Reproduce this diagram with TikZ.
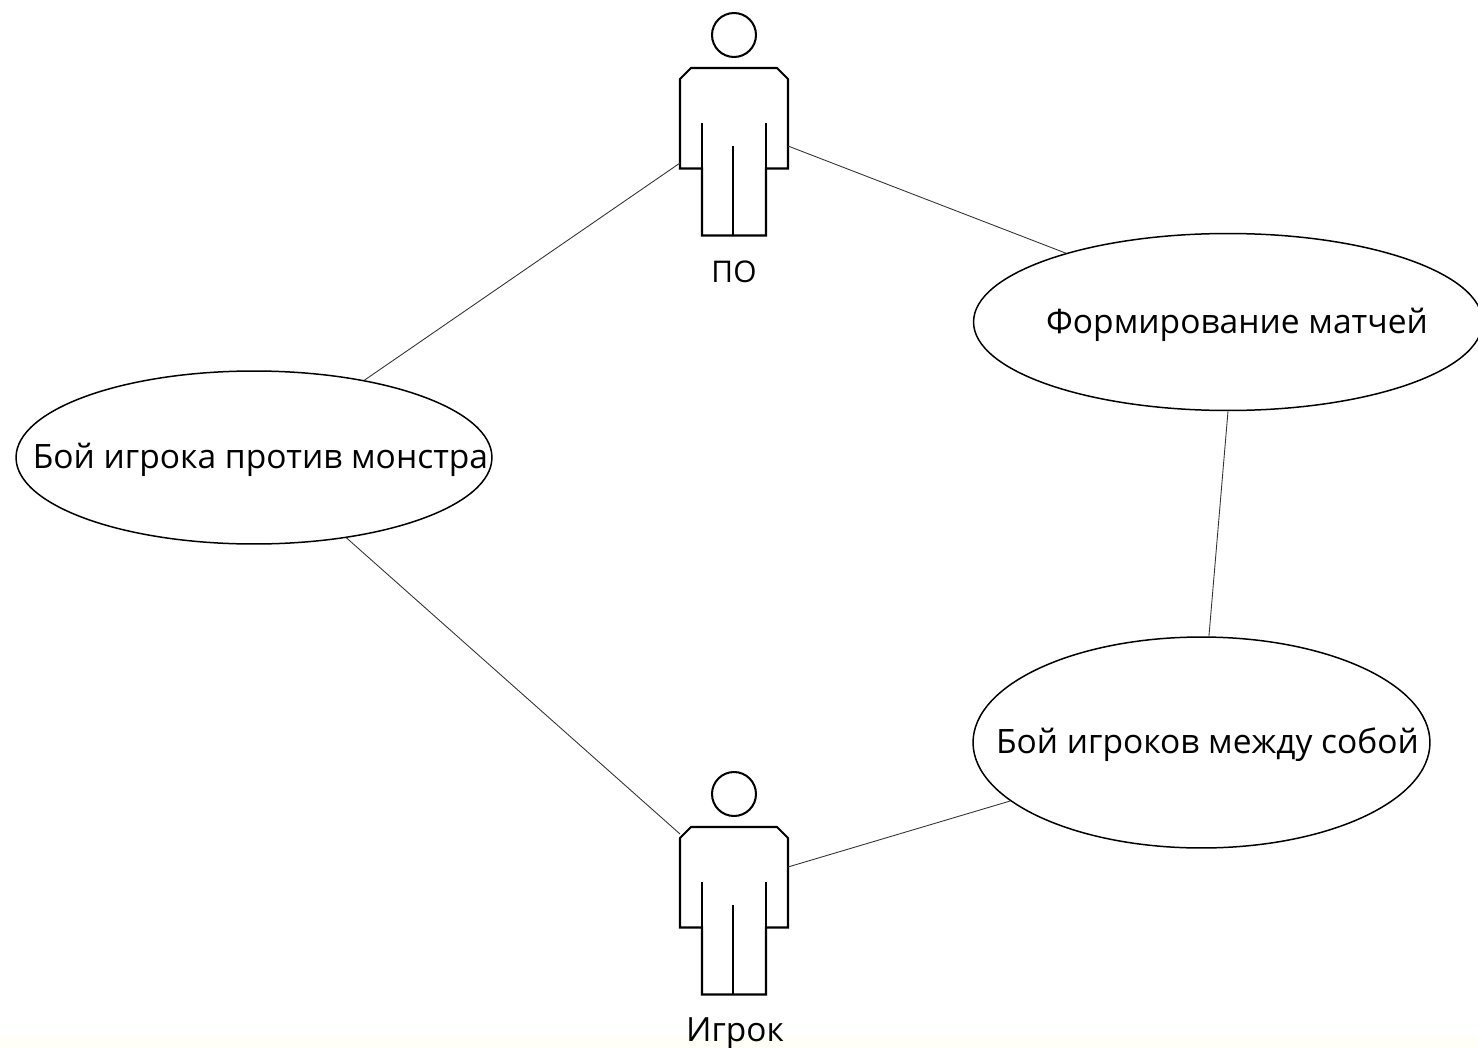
\documentclass[tikz,border=0pt]{standalone}
\usepackage{fontspec}
\setmainfont{Open Sans}
\usetikzlibrary{shapes.geometric}
\tikzset{
  usecase/.style={draw=black,line width=0.85pt,ellipse,inner sep=0pt,font=\fontsize{19.1}{24}\selectfont},
  actorline/.style={draw=black,line width=1.15pt,line join=miter},
  actorname/.style={font=\fontsize{17}{20}\selectfont,inner sep=0pt},
  link/.style={draw=black!80,line width=0.5pt}
}
\newcommand{\uclabel}[2]{\smash{\raisebox{-6.3pt}{\makebox[0pt]{\hspace*{#1}#2}}}}
\newcommand{\actorfig}[2]{%
  \begin{scope}[shift={(0,#1)}]
    \node[actorline,circle,inner sep=0pt,minimum size=0.88cm] (#2head) at (734,35) {};
    \draw[actorline] (691,68) -- (777,68) -- (788,79) -- (788,168.5) -- (766,168.5) -- (766,235.5) -- (702,235.5) -- (702,168.5) -- (680,168.5) -- (680,79) -- cycle;
    \draw[actorline] (702,123) -- (702,168);
    \draw[actorline] (766,123) -- (766,168);
    \draw[actorline] (733,146) -- (733,235);
  \end{scope}}
\begin{document}
\begin{tikzpicture}[x=0.02cm,y=-0.02cm]
  \useasboundingbox (0,0) rectangle (1478,1048);
  \clip (0,0) rectangle (1478,1048);
  \fill[white] (0,0) rectangle (1478,1048);
  \fill[yellow!3!white] (0,1036) rectangle (1478,1048);

  \actorfig{0}{po}
  \actorfig{759}{pl}
  \coordinate (poL) at (680,163);
  \coordinate (poR) at (788,146);
  \coordinate (plL) at (680,834);
  \coordinate (plR) at (788,867);
  \node[actorname] (poname) at (734,271.5) {ПО};
  \node[actorname,font=\fontsize{19}{22}\selectfont] (plname) at (735,1034) {Игрок};

  \node[usecase,minimum width=10.18cm,minimum height=3.54cm] (match) at (1228,322) {\uclabel{0.36cm}{Формирование матчей}};
  \node[usecase,minimum width=9.52cm,minimum height=3.46cm] (pve) at (254,457.5) {\uclabel{0.26cm}{Бой игрока против монстра}};
  \node[usecase,minimum width=9.14cm,minimum height=4.22cm] (pvp) at (1201.5,742.5) {\uclabel{0.24cm}{Бой игроков между собой}};

  \draw[link] (poL) -- (pve.35);
  \draw[link] (poR) -- (match.157.6);
  \draw[link] (match.270) -- (pvp.86.5);
  \draw[link] (pve.-41.7) -- (plL);
  \draw[link] (plR) -- (pvp.197);
\end{tikzpicture}
\end{document}
